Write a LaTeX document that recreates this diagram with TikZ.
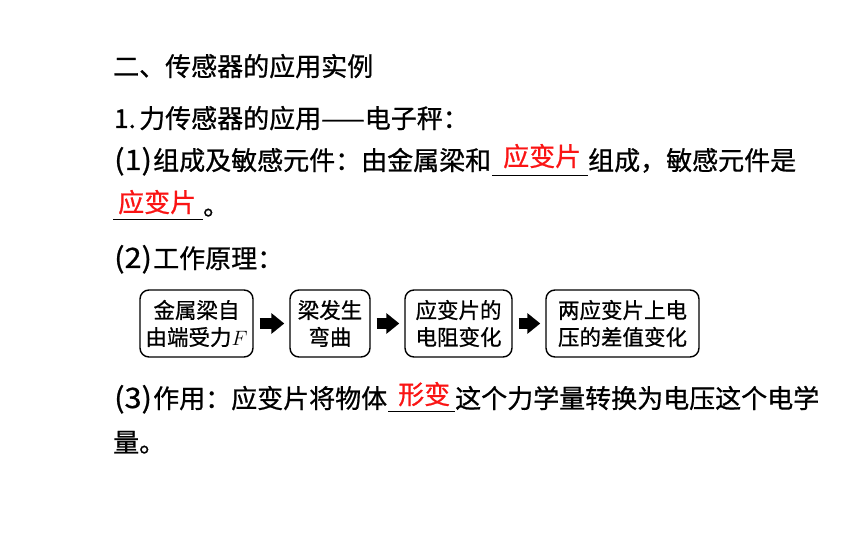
\documentclass[tikz,border=0pt]{standalone}
\usepackage{fontspec}
\newfontfamily\cjk[FakeBold=0.8]{Noto Sans CJK SC}
\usetikzlibrary{arrows.meta}
\definecolor{ansred}{RGB}{250,20,20}
\newcommand{\numlab}[1]{\scalebox{1.18}[1.08]{#1}}
\tikzset{
  txt/.style={anchor=base west, inner sep=0pt, font=\cjk\fontsize{26}{30}\selectfont, text=black},
  ans/.style={anchor=base west, inner sep=0pt, font=\cjk\fontsize{26}{30}\selectfont, text=ansred},
  blank/.style={line width=0.9pt, black},
  stepbox/.style={draw=black, line width=1.4pt, rounded corners=9pt, align=center, inner sep=0pt,
    minimum height=67pt, font=\cjk\fontsize{21.5}{27}\selectfont},
  flow/.style={line width=11pt, -{Triangle[length=13pt,width=20pt]}, shorten <=6pt, shorten >=5pt}
}
\begin{document}
\begin{tikzpicture}[x=1pt,y=-1pt]
\useasboundingbox (0,0) rectangle (860,537);
% heading
\node[txt] (h1) at (113,76) {二、传感器的应用实例};
\node[txt] (h2n) at (114,128) {1.};
\node[txt] (h2) at (139,128) {力传感器的应用——电子秤：};
% (1)
\node[txt] (l3n) at (114,170) {\numlab{(1)}};
\node[txt] (l3a) at (153,170) {组成及敏感元件：由金属梁和};
\coordinate (u1s) at (492,175);
\coordinate (u1e) at (588,175);
\draw[blank] (u1s) -- (u1e);
\node[ans] (a1) at (503,166) {应变片};
\node[txt] (l3b) at (588,170) {组成，敏感元件是};
\coordinate (u2s) at (113,219);
\coordinate (u2e) at (203,219);
\draw[blank] (u2s) -- (u2e);
\node[ans] (a2) at (118,212) {应变片};
\node[txt] (l4) at (203,215) {。};
% (2)
\node[txt] (l5n) at (114,268) {\numlab{(2)}};
\node[txt] (l5) at (153,268) {工作原理：};
\node[stepbox, minimum width=113pt] (b1) at (196.5,323.5) {金属梁自\\由端受力$F$};
\node[stepbox, minimum width=80pt] (b2) at (330,323.5) {梁发生\\弯曲};
\node[stepbox, minimum width=107pt] (b3) at (458.5,323.5) {应变片的\\电阻变化};
\node[stepbox, minimum width=153pt] (b4) at (622.5,323.5) {两应变片上电\\压的差值变化};
\draw[flow] (b1.east) -- (b2.west);
\draw[flow] (b2.east) -- (b3.west);
\draw[flow] (b3.east) -- (b4.west);
% (3)
\node[txt] (l6n) at (114,408) {\numlab{(3)}};
\node[txt] (l6a) at (153,408) {作用：应变片将物体};
\coordinate (u3s) at (388,411);
\coordinate (u3e) at (455,411);
\draw[blank] (u3s) -- (u3e);
\node[ans] (a3) at (398,404) {形变};
\node[txt] (l6b) at (455,408) {这个力学量转换为电压这个电学};
\node[txt] (l7) at (113,452) {量。};
\end{tikzpicture}
\end{document}
